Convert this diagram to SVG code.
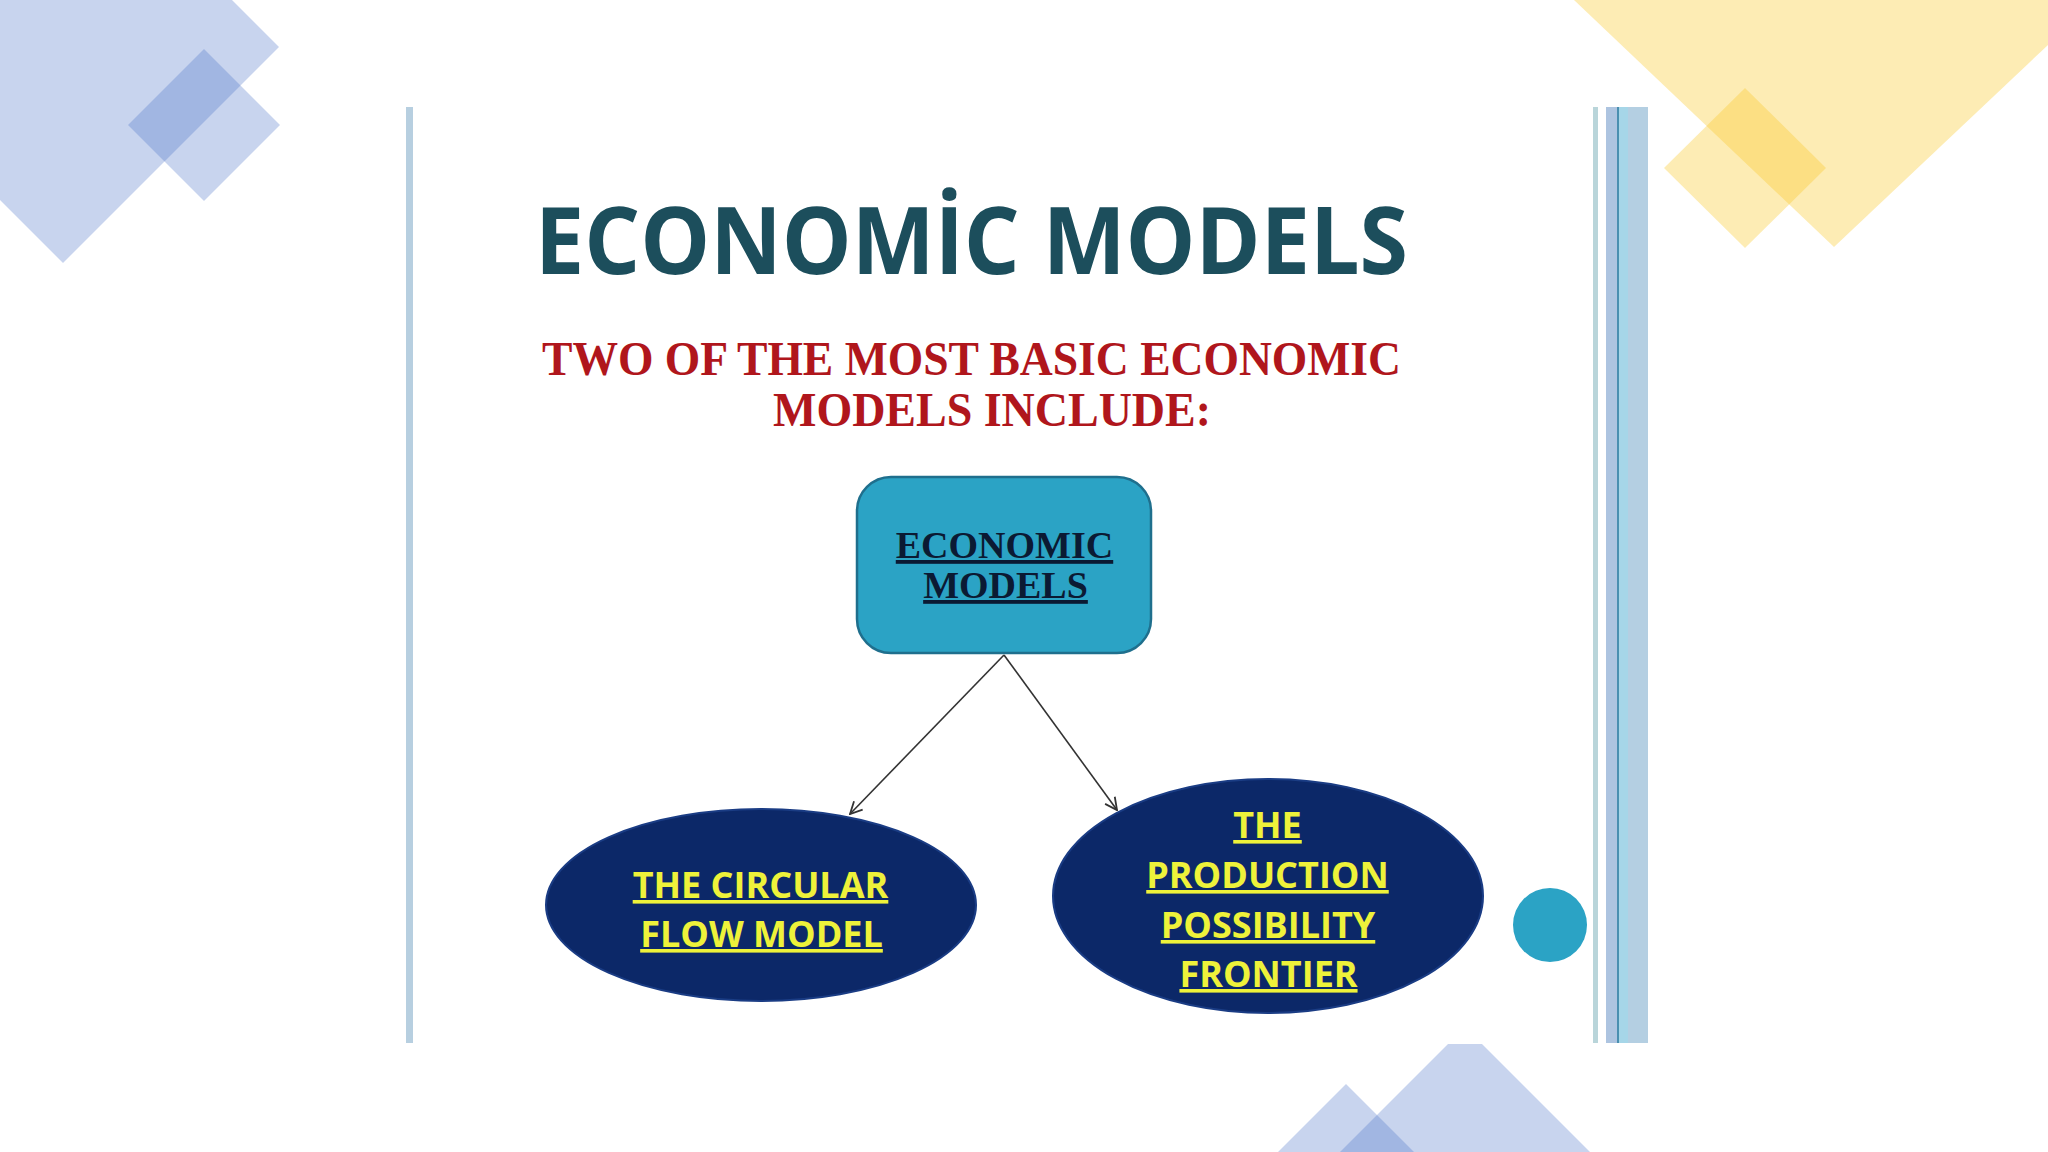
<svg xmlns="http://www.w3.org/2000/svg" width="2048" height="1152" viewBox="0 0 2048 1152">
<defs>
<style>
.blue{fill:#4a6fc8;fill-opacity:0.3}
.yel{fill:#f9c928;fill-opacity:0.35}
.title{font-family:"Open Sans","Liberation Sans",sans-serif;font-weight:700;fill:#1c4e5c}
.sub{font-family:"Liberation Serif","DejaVu Serif",serif;font-weight:700;fill:#b0161c}
.boxt{font-family:"Liberation Serif","DejaVu Serif",serif;font-weight:700;fill:#0b1a33;text-decoration:underline;text-anchor:middle}
.ovt{font-family:"Open Sans","Liberation Sans",sans-serif;font-weight:700;font-size:36px;fill:#eef23a;text-decoration:underline;text-anchor:middle}
.oval{fill:#0c2868;stroke:#1a3c84;stroke-width:2}
.conn{stroke:#333;stroke-width:1.6;fill:none}
</style>
<marker id="arr" markerUnits="userSpaceOnUse" markerWidth="16" markerHeight="16" viewBox="0 0 16 16" refX="15" refY="8" orient="auto">
<path d="M3,2 L15,8 L3,14" fill="none" stroke="#333" stroke-width="1.8"/>
</marker>
</defs>
<rect width="2048" height="1152" fill="#ffffff"/>
<g id="decor">
<polygon class="blue" points="63,-169 279,47 63,263 -153,47"/>
<polygon class="blue" points="204,49 280,125 204,201 128,125"/>
<polygon class="yel" points="1574,0 2048,0 2048,45 1834,247"/>
<polygon class="yel" points="1745,88 1826,168 1745,248 1664,168"/>
<polygon class="blue" points="1278,1152 1346,1084 1414,1152"/>
<polygon class="blue" points="1340,1152 1448,1044 1482,1044 1590,1152"/>
</g>
<g id="frame">
<rect x="406" y="107" width="7" height="936" fill="#b7cfe0"/>
<rect x="1593" y="107" width="5" height="936" fill="#b9d5da"/>
<rect x="1606" y="107" width="42" height="936" fill="#b4cfe2"/>
<rect x="1606" y="107" width="11" height="936" fill="#adc4e0"/>
<rect x="1619" y="107" width="9" height="936" fill="#a6d6e8"/>
<rect x="1617" y="107" width="2" height="936" fill="#4a8fb0"/>
</g>
<g id="title">
<text class="title" x="535" y="274" font-size="94" textLength="873" lengthAdjust="spacingAndGlyphs">ECONOMİC MODELS</text>
</g>
<g id="subtitle">
<text class="sub" x="542" y="375" font-size="49" textLength="859" lengthAdjust="spacingAndGlyphs">TWO OF THE MOST BASIC ECONOMIC</text>
<text class="sub" x="773" y="426" font-size="49" textLength="438" lengthAdjust="spacingAndGlyphs">MODELS INCLUDE:</text>
</g>
<g id="connectors">
<line class="conn" x1="1004" y1="655" x2="850" y2="814" marker-end="url(#arr)"/>
<line class="conn" x1="1004" y1="655" x2="1117" y2="810" marker-end="url(#arr)"/>
</g>
<g id="node-economic-models">
<rect x="857" y="477" width="294" height="176" rx="34" ry="34" fill="#2ba3c5" stroke="#1f6f8d" stroke-width="2.5"/>
<text class="boxt" x="1004.5" y="558" font-size="38">ECONOMIC</text>
<text class="boxt" x="1005.5" y="598" font-size="38">MODELS</text>
</g>
<g id="node-circular-flow">
<ellipse class="oval" cx="761" cy="905" rx="215" ry="96"/>
<text class="ovt" x="760.5" y="898">THE CIRCULAR</text>
<text class="ovt" x="761.5" y="947">FLOW MODEL</text>
</g>
<g id="node-ppf">
<ellipse class="oval" cx="1268" cy="896" rx="215" ry="117"/>
<text class="ovt" x="1267.5" y="838">THE</text>
<text class="ovt" x="1267.5" y="888">PRODUCTION</text>
<text class="ovt" x="1268" y="938">POSSIBILITY</text>
<text class="ovt" x="1268.5" y="987">FRONTIER</text>
</g>
<g id="dot">
<circle cx="1550" cy="925" r="37" fill="#2ba3c5"/>
</g>
</svg>
